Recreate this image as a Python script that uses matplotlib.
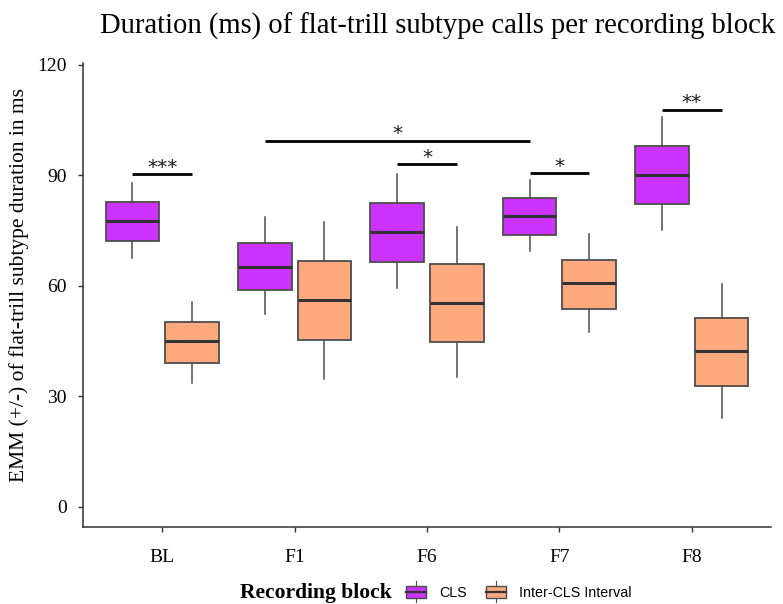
import matplotlib
matplotlib.use("Agg")
import matplotlib.pyplot as plt
from matplotlib.patches import Rectangle
from matplotlib.lines import Line2D
from matplotlib.legend_handler import HandlerBase

# ---- data ----
blocks = ["BL", "F1", "F6", "F7", "F8"]
groups = ["CLS", "Inter-CLS Interval"]
# per block: whisker low, q1, median, q3, whisker high
cls_whislo = [67.5, 52.2, 59.4, 69.4, 75.0]
cls_q1     = [72.1, 58.7, 66.3, 73.7, 82.3]
cls_med    = [77.5, 65.2, 74.6, 78.9, 90.1]
cls_q3     = [82.7, 71.7, 82.4, 83.7, 97.9]
cls_whishi = [87.8, 78.6, 90.2, 88.7, 105.7]

int_whislo = [33.6, 34.7, 35.1, 47.5, 24.0]
int_q1     = [39.0, 45.2, 44.6, 53.8, 32.8]
int_med    = [44.9, 56.0, 55.4, 60.7, 42.2]
int_q3     = [50.2, 66.8, 65.8, 67.1, 51.3]
int_whishi = [55.6, 77.4, 75.9, 73.9, 60.4]

# significance brackets
sig_from_block = [0, 1, 2, 3, 4]
sig_from_group = [0, 0, 0, 0, 0]
sig_to_block   = [0, 3, 2, 3, 4]
sig_to_group   = [1, 0, 1, 1, 1]
sig_y          = [90.3, 99.4, 93.1, 90.6, 107.8]
sig_labels     = ["***", "*", "*", "*", "**"]

colors = ["#CC33FF", "#FFA97F"]
edge = "#4d4d4d"
offset = 0.225
width = 0.405

fig = plt.figure(figsize=(7.83, 6.04), dpi=100)
ax = fig.add_axes([0.1056, 0.1275, 0.8794, 0.7685])

series = [
    (cls_whislo, cls_q1, cls_med, cls_q3, cls_whishi),
    (int_whislo, int_q1, int_med, int_q3, int_whishi),
]
for gi, (wl, q1, md, q3, wh) in enumerate(series):
    stats = []
    for i in range(len(blocks)):
        stats.append(dict(whislo=wl[i], q1=q1[i], med=md[i], q3=q3[i],
                          whishi=wh[i], fliers=[]))
    pos = [i + 1 + (offset if gi else -offset) for i in range(len(blocks))]
    ax.bxp(stats, positions=pos, widths=width, patch_artist=True,
           showcaps=False, showfliers=False,
           boxprops=dict(facecolor=colors[gi], edgecolor=edge, linewidth=1.3),
           medianprops=dict(color="#333333", linewidth=2.2),
           whiskerprops=dict(color=edge, linewidth=1.1),
           manage_ticks=False)

for a, ga, b, gb, y, lab in zip(sig_from_block, sig_from_group, sig_to_block,
                                sig_to_group, sig_y, sig_labels):
    x1 = a + 1 + (offset if ga else -offset)
    x2 = b + 1 + (offset if gb else -offset)
    ax.plot([x1, x2], [y, y], color="black", lw=2.0, solid_capstyle="butt")
    ax.text((x1 + x2) / 2, y + 0.3, lab, ha="center", va="baseline",
            fontsize=14.5, family="DejaVu Sans", color="#1a1a1a")

ax.set_xlim(0.4, 5.6)
ax.set_ylim(-5.5, 120.5)
ax.set_xticks(range(1, len(blocks) + 1))
ax.set_xticklabels(blocks)
ax.set_yticks([0, 30, 60, 90, 120])
for s in ["top", "right"]:
    ax.spines[s].set_visible(False)
for s in ["left", "bottom"]:
    ax.spines[s].set_color("#333333")
    ax.spines[s].set_linewidth(1.1)
ax.tick_params(axis="both", colors="#333333", length=3.5, width=1,
               labelsize=14, labelcolor="black")
for lbl in ax.get_xticklabels() + ax.get_yticklabels():
    lbl.set_family("Liberation Serif")
ax.tick_params(axis="x", pad=12)
ax.tick_params(axis="y", pad=8)
ax.set_ylabel("EMM (+/-) of flat-trill subtype duration in ms",
              family="Liberation Serif", fontsize=15.5)
ax.yaxis.set_label_coords(-0.078, 0.521)

fig.text(0.128, 0.956, "Duration (ms) of flat-trill subtype calls per recording block",
         family="Liberation Serif", fontsize=20.6, ha="left", va="center")


class BoxHandler(HandlerBase):
    def create_artists(self, legend, orig_handle, xdescent, ydescent,
                       width_, height, fontsize, trans):
        fc = orig_handle.get_facecolor()
        cx = width_ / 2 - xdescent
        bw = width_ * 0.95
        r = Rectangle((cx - bw / 2, -ydescent + height * 0.12), bw, height * 0.76,
                      facecolor=fc, edgecolor=edge, lw=1.0, transform=trans)
        m = Line2D([cx - bw / 2, cx + bw / 2],
                   [-ydescent + height * 0.5] * 2, color="#333333", lw=1.6,
                   transform=trans)
        w1 = Line2D([cx, cx], [-ydescent + height * 0.88, -ydescent + height * 1.15],
                    color=edge, lw=0.8, transform=trans)
        w2 = Line2D([cx, cx], [-ydescent - height * 0.15, -ydescent + height * 0.12],
                    color=edge, lw=0.8, transform=trans)
        return [w1, w2, r, m]


handles = [Rectangle((0, 0), 1, 1, facecolor=c) for c in colors]
fig.text(0.307, 0.018, "Recording block", family="Liberation Serif",
         fontsize=15.5, fontweight="bold", ha="left", va="center")
leg = fig.legend(handles, groups, loc="center left",
                 bbox_to_anchor=(0.518, 0.02), ncol=2, frameon=False,
                 handler_map={Rectangle: BoxHandler()},
                 prop=dict(family="Liberation Sans", size=10.3),
                 handlelength=1.45, handleheight=1.35, columnspacing=1.3,
                 handletextpad=0.9, borderaxespad=0, borderpad=0)

fig.savefig("out.png", dpi=100)
